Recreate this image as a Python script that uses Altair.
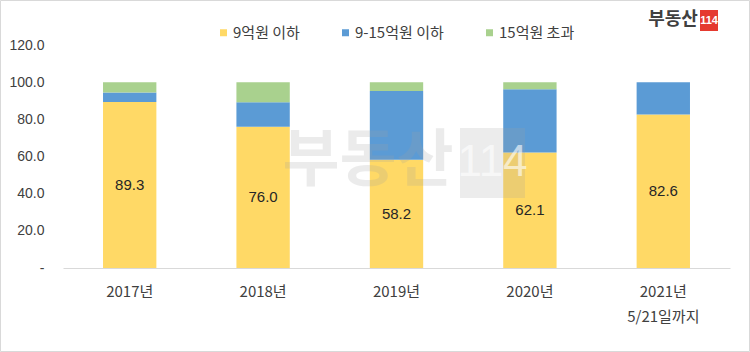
import altair as alt
import pandas as pd

years = ["2017년", "2018년", "2019년", "2020년", "2021년"]
under9 = [89.3, 76.0, 58.2, 62.1, 82.6]
from9to15 = [5.2, 13.2, 37.0, 34.1, 17.4]
over15 = [5.5, 10.8, 4.8, 3.8, 0.0]
series = ["9억원 이하", "9-15억원 이하", "15억원 초과"]
colors = ["#FFD966", "#5B9BD5", "#A9D18E"]
y_ticks = [0, 20, 40, 60, 80, 100, 120]

FONT = "Liberation Sans, Noto Sans CJK KR, sans-serif"
KFONT = "Noto Sans CJK KR, Liberation Sans, sans-serif"

rows = []
for i, y in enumerate(years):
    for j, (s, vals) in enumerate(zip(series, [under9, from9to15, over15])):
        rows.append({"year": y, "series": s, "order": j, "value": vals[i]})
df = pd.DataFrame(rows)
lab = pd.DataFrame({"year": years, "value": under9, "mid": [v / 2 for v in under9]})

W, H = 667, 223

xaxis = alt.Axis(labelExpr="datum.value == '2021년' ? ['2021년', '5/21일까지'] : datum.value",
                 labelAngle=0, ticks=False, domainColor="#D9D9D9", domainWidth=1,
                 labelFontSize=15, labelColor="#404040", labelPadding=16,
                 labelLineHeight=25, labelFont=KFONT)
yaxis = alt.Axis(values=y_ticks, grid=False, domain=False, ticks=False,
                 labelOverlap=False, labelFlush=False,
                 labelExpr="datum.value == 0 ? '-' : format(datum.value, '.1f')",
                 labelFontSize=14, labelColor="#404040", labelPadding=19,
                 labelFont=FONT)
xscale = alt.Scale(paddingInner=0.6, paddingOuter=0.3)
yscale = alt.Scale(domain=[0, 120])

bars = alt.Chart(df).mark_bar().encode(
    x=alt.X("year:N", sort=years, title=None, scale=xscale, axis=xaxis),
    y=alt.Y("value:Q", title=None, stack="zero", scale=yscale, axis=yaxis),
    color=alt.Color("series:N", sort=series,
                    scale=alt.Scale(domain=series, range=colors),
                    legend=alt.Legend(title=None, orient="none", direction="horizontal",
                                      legendX=153, legendY=-20, symbolType="square",
                                      symbolSize=49, symbolStrokeWidth=0,
                                      labelFontSize=15, labelColor="#404040",
                                      labelFont=KFONT, labelOffset=2,
                                      columnPadding=38, padding=0)),
    order=alt.Order("order:Q", sort="ascending"),
)

labels = alt.Chart(lab).mark_text(fontSize=15, color="#262626", font=FONT).encode(
    x=alt.X("year:N", sort=years, title=None, scale=xscale, axis=xaxis),
    y=alt.Y("mid:Q", title=None, scale=yscale, axis=yaxis),
    text=alt.Text("value:Q", format=".1f"),
)

# watermark
wm = pd.DataFrame({"t": ["부동산"]})
wm_text = alt.Chart(wm).mark_text(fontSize=62, fontWeight="bold", font=KFONT,
                                  color="#a0a0a0", opacity=0.2).encode(
    x=alt.value(305), y=alt.value(117), text="t:N")
wm_box = alt.Chart(wm).mark_rect(color="#a0a0a0", opacity=0.2).encode(
    x=alt.value(397), x2=alt.value(462), y=alt.value(83), y2=alt.value(153))
wm_num = alt.Chart(pd.DataFrame({"t": ["114"]})).mark_text(
    fontSize=44, font=FONT, color="white", opacity=0.6).encode(
    x=alt.value(429.5), y=alt.value(118), text="t:N")

# logo
logo_text = alt.Chart(wm).mark_text(fontSize=18, fontWeight="bold", font=KFONT,
                                    color="#404040").encode(
    x=alt.value(610), y=alt.value(-25), text="t:N")
logo_box = alt.Chart(wm).mark_rect(color="#E53A2F").encode(
    x=alt.value(637), x2=alt.value(655), y=alt.value(-35), y2=alt.value(-14))
logo_num = alt.Chart(pd.DataFrame({"t": ["114"]})).mark_text(
    fontSize=11, fontWeight="bold", font=FONT, color="white").encode(
    x=alt.value(646), y=alt.value(-24.5), text="t:N")

border = alt.Chart(wm).mark_rect(fill=None, stroke="#D9D9D9", strokeWidth=1).encode(
    x=alt.value(-62.5), x2=alt.value(686.5), y=alt.value(-44.5), y2=alt.value(306.5))

chart = alt.layer(bars, labels, wm_text, wm_box, wm_num, logo_text, logo_box, logo_num, border).properties(
    width=W, height=H,
    autosize=alt.AutoSizeParams(type="none"),
    padding={"left": 63, "top": 45, "right": 20, "bottom": 84},
    background="white",
).configure_view(stroke=None)

chart.save("out.html", embed_options={"renderer": "svg", "actions": False})
